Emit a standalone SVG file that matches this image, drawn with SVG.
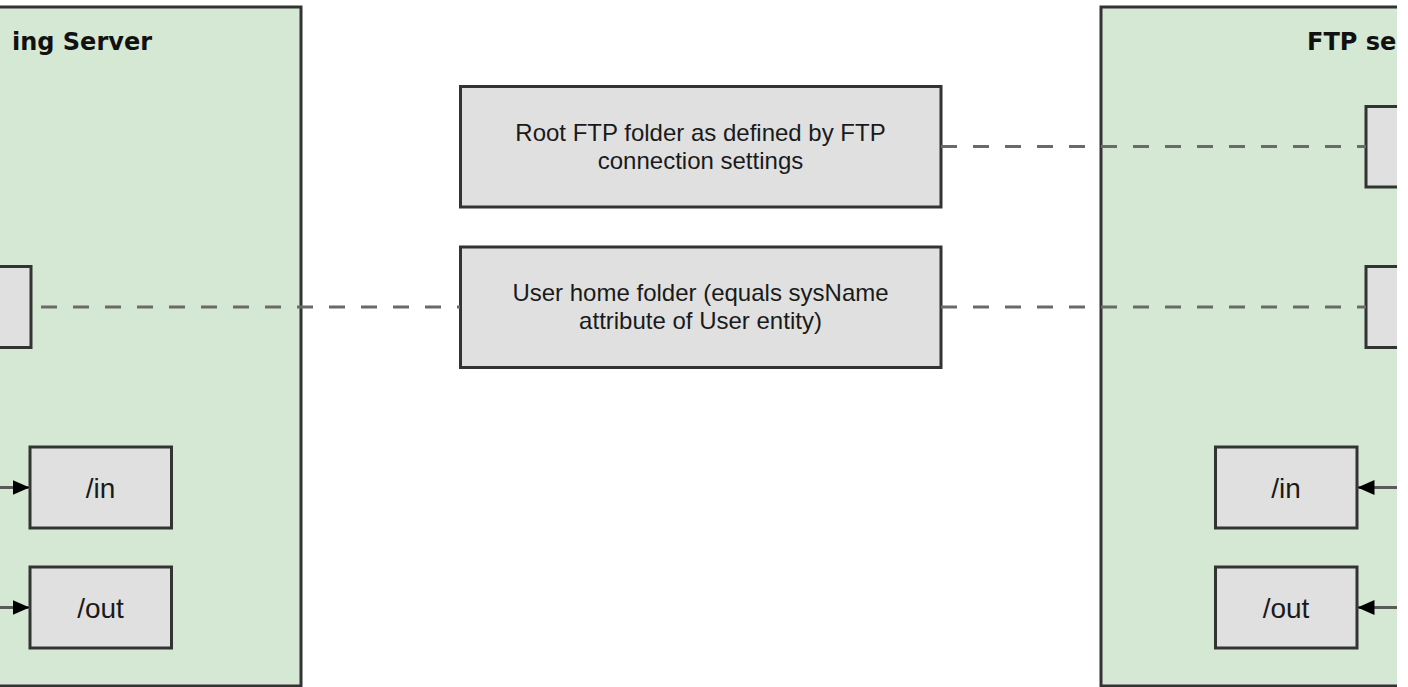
<svg xmlns="http://www.w3.org/2000/svg" width="1408" height="687" viewBox="0 0 1408 687">
  <defs>
    <clipPath id="view"><rect x="0" y="0" width="1397" height="687"/></clipPath>
    <marker id="arrow" markerUnits="userSpaceOnUse" markerWidth="18" markerHeight="16" viewBox="0 0 18 16" refX="17" refY="8" orient="auto">
      <path d="M0,0.5 L17,8 L0,15.5 Z" fill="#000"/>
    </marker>
    <style>
      .container { fill: #d5e8d4; stroke: #333; stroke-width: 3; }
      .box { fill: #e0e0e0; stroke: #333; stroke-width: 3; }
      .title { font-family: "DejaVu Sans", sans-serif; font-weight: bold; font-size: 24px; fill: #111; }
      .label { font-family: "Liberation Sans", Arial, sans-serif; font-size: 24px; fill: #1a1a1a; text-anchor: middle; }
      .big { font-size: 28px; }
      .dash { stroke: #6a6a6a; stroke-width: 3; stroke-dasharray: 16 16; fill: none; }
      .arr { stroke: #5a5a5a; stroke-width: 3; fill: none; marker-end: url(#arrow); }
    </style>
  </defs>
  <rect x="0" y="0" width="1408" height="687" fill="#fff"/>
  <g clip-path="url(#view)">
    <g id="left-server">
      <rect class="container" x="-20" y="7" width="321" height="679"/>
      <text class="title" x="152" y="50" text-anchor="end">ing Server</text>
    </g>
    <g id="right-server">
      <rect class="container" x="1101" y="7" width="340" height="679"/>
      <text class="title" x="1307" y="50">FTP se</text>
    </g>
    <g id="left-home">
      <rect class="box" x="-100" y="266.5" width="131" height="81"/>
    </g>
    <g id="left-in">
      <rect class="box" x="30" y="447" width="141.5" height="81"/>
      <text class="label big" x="100.5" y="498">/in</text>
    </g>
    <g id="left-out">
      <rect class="box" x="30" y="567" width="141.5" height="81"/>
      <text class="label big" x="100.5" y="618">/out</text>
    </g>
    <g id="root-folder">
      <rect class="box" x="460.5" y="86.5" width="480.5" height="120.5"/>
      <text class="label" x="700.5" y="141">Root FTP folder as defined by FTP</text>
      <text class="label" x="700.5" y="169">connection settings</text>
    </g>
    <g id="user-home">
      <rect class="box" x="460.5" y="247" width="480.5" height="120.5"/>
      <text class="label" x="700.5" y="301">User home folder (equals sysName</text>
      <text class="label" x="700.5" y="329">attribute of User entity)</text>
    </g>
    <g id="right-root">
      <rect class="box" x="1366" y="106.5" width="120" height="80.5"/>
    </g>
    <g id="right-home">
      <rect class="box" x="1366" y="266.5" width="120" height="81"/>
    </g>
    <g id="right-in">
      <rect class="box" x="1215.5" y="447" width="141.5" height="81"/>
      <text class="label big" x="1286" y="498">/in</text>
    </g>
    <g id="right-out">
      <rect class="box" x="1215.5" y="567" width="141.5" height="81"/>
      <text class="label big" x="1286" y="618">/out</text>
    </g>
    <g id="connectors">
      <line class="dash" x1="31" y1="307" x2="460" y2="307" stroke-dashoffset="22"/>
      <line class="dash" x1="941" y1="146.5" x2="1366" y2="146.5"/>
      <line class="dash" x1="941" y1="307" x2="1366" y2="307"/>
      <line class="arr" x1="-5" y1="487.5" x2="29.5" y2="487.5"/>
      <line class="arr" x1="-5" y1="607.5" x2="29.5" y2="607.5"/>
      <line class="arr" x1="1400" y1="487.5" x2="1357.5" y2="487.5"/>
      <line class="arr" x1="1400" y1="607.5" x2="1357.5" y2="607.5"/>
    </g>
  </g>
</svg>
